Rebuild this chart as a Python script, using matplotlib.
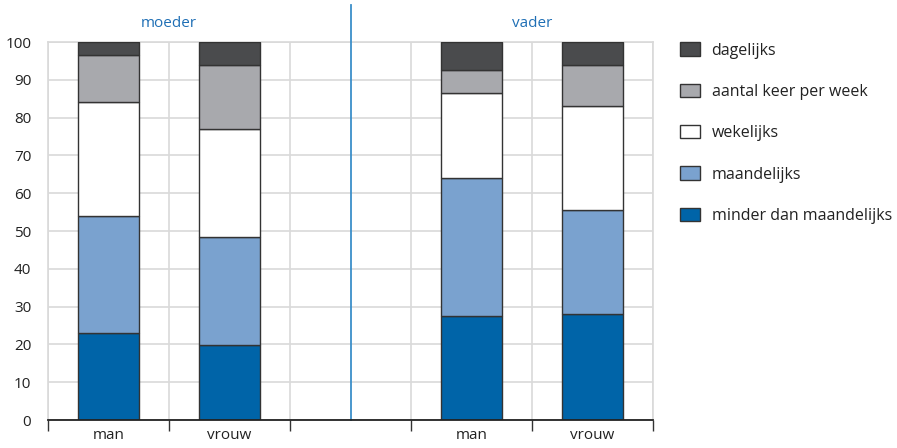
import matplotlib
matplotlib.use("Agg")
import matplotlib.pyplot as plt
from matplotlib.patches import Patch
import numpy as np

plt.rcParams['font.family'] = ['Open Sans', 'DejaVu Sans']

groups = ["moeder", "vader"]
bar_labels = ["man", "vrouw", "man", "vrouw"]
series = ["minder dan maandelijks", "maandelijks", "wekelijks",
          "aantal keer per week", "dagelijks"]
minder = [23.1, 19.8, 27.5, 28.0]
maandelijks = [30.9, 28.6, 36.5, 27.6]
wekelijks = [30.2, 28.7, 22.6, 27.5]
aantal_keer = [12.3, 16.9, 6.0, 10.9]
dagelijks = [3.5, 6.0, 7.4, 6.0]
values = [minder, maandelijks, wekelijks, aantal_keer, dagelijks]
colors = ["#0064a8", "#7aa2cf", "#ffffff", "#a8a9ad", "#4a4b4d"]

# bar slots: two per group with an empty slot between the groups
xpos = np.array([0.5, 1.5, 3.5, 4.5])

fig = plt.figure(figsize=(8.97, 4.48), dpi=100)
ax = fig.add_axes([48/897, 1 - 420/448, (653 - 48)/897, 378/448])

bottom = np.zeros(len(xpos))
for vals, col, name in zip(values, colors, series):
    ax.bar(xpos, vals, width=0.5, bottom=bottom, color=col,
           edgecolor="#333333", linewidth=1.0, label=name, zorder=3)
    bottom += np.array(vals)

ax.set_xlim(0, 5)
ax.set_ylim(0, 100)
ax.set_yticks(range(0, 101, 10))
ax.set_xticks(range(0, 6))
ax.set_xticklabels([])
ax.set_xticks(xpos, minor=True)
ax.set_xticklabels(bar_labels, minor=True)
ax.tick_params(axis="x", which="major", length=8, width=1, color="#333333", direction="out")
ax.tick_params(axis="x", which="minor", length=0, pad=6, labelsize=11, labelcolor="#222222")
ax.tick_params(axis="y", length=0, pad=12, labelsize=11, labelcolor="#222222")

ax.grid(True, which="major", color="#d9d9d9", linewidth=1.2, zorder=0)
for s in ["left", "right", "top"]:
    ax.spines[s].set_color("#d9d9d9")
    ax.spines[s].set_linewidth(1.2)
ax.spines["bottom"].set_color("#222222")
ax.spines["bottom"].set_linewidth(1.3)
ax.spines["bottom"].set_zorder(4)

# divider between groups
ax.axvline(2.5, ymin=0, ymax=(420 - 5) / 378, color="#3b8fc9", linewidth=1.3,
           clip_on=False, zorder=4)
for gx, g in zip([1.0, 4.0], groups):
    ax.text(gx, 104.8, g, ha="center", va="center", color="#1f6fb5", fontsize=11)

handles = [Patch(facecolor=c, edgecolor="#333333", linewidth=1.0)
           for c in colors[::-1]]
fig.legend(handles, series[::-1], loc="upper left",
           bbox_to_anchor=(666/897, 1 - 28/448), frameon=False,
           fontsize=11.5, labelspacing=1.58, handlelength=1.25, handleheight=0.9,
           handletextpad=0.7, labelcolor="#222222")

fig.savefig("out.png", dpi=100)
